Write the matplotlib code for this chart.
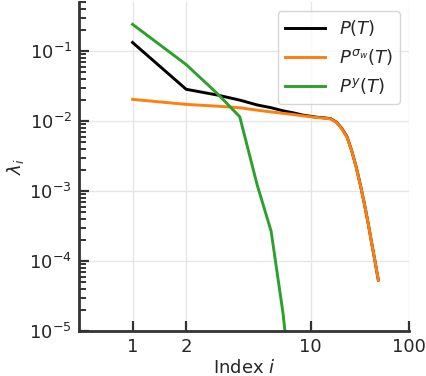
import numpy as np
import matplotlib
matplotlib.use("Agg")
import matplotlib.pyplot as plt
from matplotlib.ticker import FixedLocator, FixedFormatter, NullLocator, LogLocator

# ---- data ----
idx_P = list(range(1, 25))
P = [0.132, 0.0284, 0.0235, 0.0199, 0.0170, 0.0155, 0.0140, 0.0131, 0.0122,
     0.0117, 0.0113, 0.0111, 0.0108, 0.0096, 0.0078, 0.0060, 0.0038, 0.00225,
     0.00125, 0.00068, 0.00036, 0.000185, 0.0001, 0.000054]

idx_Psw = list(range(1, 25))
Psw = [0.0204, 0.0173, 0.0163, 0.0155, 0.0143, 0.0135, 0.0129, 0.0124, 0.0119,
       0.0115, 0.0112, 0.0110, 0.0107, 0.0095, 0.0077, 0.0059, 0.0038, 0.00224,
       0.00124, 0.00068, 0.00036, 0.000185, 0.0001, 0.000054]

idx_Py = list(range(1, 9))
Py = [0.24, 0.064, 0.0245, 0.0115, 0.00125, 0.000268, 0.000018, 8e-7]

x_tick_values = [1, 2, 10, 35.7]
x_tick_labels = ["1", "2", "10", "100"]
x_limits = (0.5, 35.7)
y_limits = (1e-5, 0.5)

text_color = "#262626"
spine_color = "#333333"

plt.rcParams.update({
    "font.family": ["DejaVu Sans"],
    "font.size": 13,
    "text.color": text_color,
    "axes.labelcolor": text_color,
    "xtick.color": spine_color,
    "ytick.color": spine_color,
    "xtick.labelcolor": text_color,
    "ytick.labelcolor": text_color,
})

fig = plt.figure(figsize=(4.26, 3.76), dpi=100)
ax = fig.add_axes([79/426, 1 - 331.3/376, (409 - 79)/426, (331.3 - 2)/376])

ax.plot(idx_P, P, color="black", lw=2.1, label=r"$P(T)$")
ax.plot(idx_Psw, Psw, color="#ff7f0e", lw=2.1, label=r"$P^{\sigma_w}(T)$")
ax.plot(idx_Py, Py, color="#2ca02c", lw=2.1, label=r"$P^{y}(T)$")

ax.set_xscale("log")
ax.set_yscale("log")
ax.set_xlim(*x_limits)
ax.set_ylim(*y_limits)

ax.xaxis.set_major_locator(FixedLocator(x_tick_values))
ax.xaxis.set_major_formatter(FixedFormatter(x_tick_labels))
ax.xaxis.set_minor_locator(NullLocator())
ax.yaxis.set_major_locator(LogLocator(base=10, numticks=10))
ax.yaxis.set_minor_locator(LogLocator(base=10, subs=np.arange(2, 10), numticks=20))

ax.grid(True, which="major", color="#e6e6e6", lw=1.0)
ax.set_axisbelow(True)

for s in ["top", "right"]:
    ax.spines[s].set_visible(False)
for s in ["left", "bottom"]:
    ax.spines[s].set_linewidth(2.0)
    ax.spines[s].set_color(spine_color)

ax.tick_params(axis="both", which="major", direction="in", length=7.5, width=1.6,
               labelsize=13, pad=5)
ax.tick_params(axis="y", which="minor", direction="in", length=5, width=1.4)

ax.set_xlabel(r"Index $i$", fontsize=13, labelpad=2)
ax.set_ylabel(r"$\lambda_i$", fontsize=13, labelpad=2)

leg = ax.legend(loc="upper right", fontsize=13, framealpha=0.8, edgecolor="#cccccc",
                handlelength=2.2)

fig.savefig("out.png", dpi=100)
